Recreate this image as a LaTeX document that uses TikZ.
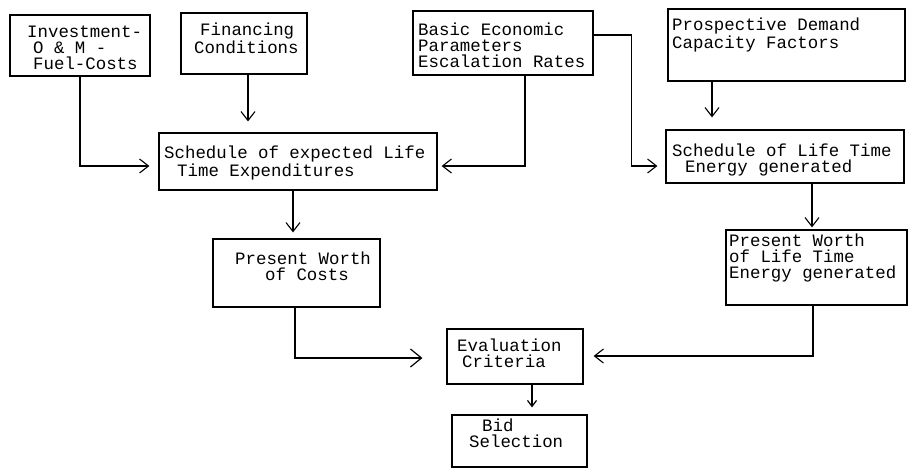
\documentclass[tikz,border=0pt]{standalone}
\usepackage{fontspec}
\setmonofont{Liberation Mono}
\usetikzlibrary{arrows.meta,calc}
\begin{document}
\begin{tikzpicture}[x=1pt,y=-1pt,
  box/.style={draw,line width=1.2pt,inner sep=0pt,rectangle},
  txt/.style={inner sep=0pt,anchor=base west,align=left,font=\ttfamily\fontsize{17.4}{16}\selectfont},
  arr/.style={line width=1.2pt,-{Straight Barb[length=9pt,width=14pt,line width=1.1pt]}},
  bigarr/.style={line width=1.2pt,-{Straight Barb[length=11pt,width=18pt,line width=1.2pt]}},
  smallarr/.style={line width=1.2pt,-{Straight Barb[length=6pt,width=9pt,line width=1.2pt]}}]
\useasboundingbox (0,0) rectangle (909,469);
% boxes
\node[box,minimum width=140pt,minimum height=61pt] (B1) at (80,45.5) {};
\node[box,minimum width=126pt,minimum height=61pt] (B2) at (244,43.5) {};
\node[box,minimum width=180pt,minimum height=64pt] (B3) at (503,43) {};
\node[box,minimum width=237pt,minimum height=72pt] (B4) at (786.5,45) {};
\node[box,minimum width=278pt,minimum height=57pt] (B5) at (298,161.5) {};
\node[box,minimum width=238pt,minimum height=53pt] (B6) at (785,156.5) {};
\node[box,minimum width=167pt,minimum height=68pt] (B7) at (296.5,273) {};
\node[box,minimum width=181pt,minimum height=75pt] (B8) at (816.5,267.5) {};
\node[box,minimum width=136pt,minimum height=55pt] (B9) at (515,356.5) {};
\node[box,minimum width=135pt,minimum height=52pt] (B10) at (519.5,441) {};
% texts (anchored at the baseline of the last line)
\node[txt] (t1) at (27,69) {Investment-\\\hspace*{6pt}O \& M -\\\hspace*{6pt}Fuel-Costs};
\node[txt] (t2) at (194,53) {\hspace*{6pt}Financing\\Conditions};
\node[txt] (t3) at (418,67) {Basic Economic\\Parameters\\Escalation Rates};
\node[txt] (t4) at (672,48) {Prospective Demand\\Capacity Factors};
\node[txt] (t5) at (164,176) {Schedule of expected Life\\\hspace*{13pt}Time Expenditures};
\node[txt] (t6) at (672,172) {Schedule of Life Time\\\hspace*{13pt}Energy generated};
\node[txt] (t7) at (235,280) {Present Worth\\\hspace*{30pt}of Costs};
\node[txt] (t8) at (729,278) {Present Worth\\of Life Time\\Energy generated};
\node[txt] (t9) at (457,367) {Evaluation\\\hspace*{5pt}Criteria};
\node[txt] (t10) at (469,447) {\hspace*{13pt}Bid\\Selection};
% connectors
\draw[arr] (B1.south) |- ($(B5.west)+(-9,4.5)$);
\draw[arr] ($(B2.south)+(4,0)$) -- ($(B5.north)+(-50,-11)$);
\draw[arr] ($(B3.south)+(22,0)$) |- ($(B5.east)+(4,4.5)$);
\draw[arr] ($(B3.east)+(0,-8)$) -| ($(B6.west)+(-34,9.5)$) -- ($(B6.west)+(-8,9.5)$);
\draw[arr] ($(B4.south)+(-74.5,0)$) -- ($(B6.north)+(-73,-12)$);
\draw[arr] ($(B6.south)+(27,0)$) -- ($(B8.north)+(-4.5,-2)$);
\draw[arr] ($(B5.south)+(-5,0)$) -- ($(B7.north)+(-3.5,-6)$);
\draw[bigarr] ($(B7.south)+(-1.5,0)$) |- ($(B9.west)+(-24,1.5)$);
\draw[arr] ($(B8.south)+(-3.5,0)$) |- ($(B9.east)+(10,-0.5)$);
\draw[smallarr] ($(B9.south)+(17,0)$) -- ($(B10.north)+(12.5,-7)$);
\end{tikzpicture}
\end{document}
